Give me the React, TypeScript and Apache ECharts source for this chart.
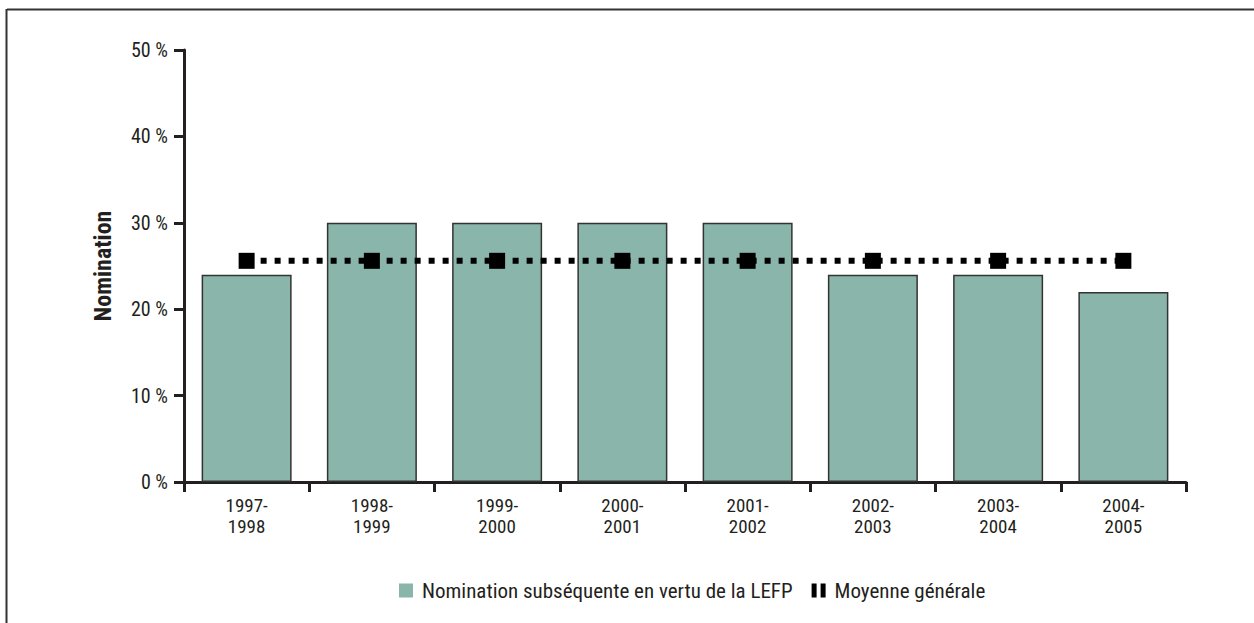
import React, { useEffect, useRef } from "react";
import * as echarts from "echarts";

const categories = ["1997-\n1998", "1998-\n1999", "1999-\n2000", "2000-\n2001", "2001-\n2002", "2002-\n2003", "2003-\n2004", "2004-\n2005"];
const barValues = [24, 30, 30, 30, 30, 24, 24, 22];
const avgValues = [25.6, 25.6, 25.6, 25.6, 25.6, 25.6, 25.6, 25.6];
const barName = "Nomination subséquente en vertu de la LEFP";
const lineName = "Moyenne générale";

const FONT = "'Liberation Sans Narrow', 'Roboto Condensed', 'DejaVu Sans Condensed', Roboto, sans-serif";
const TXT = "#231f20";

export default function App() {
  const ref = useRef<HTMLDivElement>(null);
  useEffect(() => {
    const chart = echarts.init(ref.current!, null, { renderer: "svg" });
    chart.setOption({
      animation: false,
      textStyle: { fontFamily: FONT, color: TXT },
      graphic: [
        { type: "line", shape: { x1: 7, y1: 9.5, x2: 1254, y2: 9.5 }, style: { stroke: "#333", lineWidth: 2 } },
        { type: "line", shape: { x1: 6.5, y1: 9, x2: 6.5, y2: 623 }, style: { stroke: "#333", lineWidth: 2 } },
      ],
      legend: {
        bottom: 17,
        left: 394,
        itemWidth: 14,
        itemHeight: 14,
        itemGap: 19,
        textStyle: { fontFamily: FONT, fontSize: 21, color: TXT, padding: [0, 0, 0, 4] },
        data: [
          { name: barName, icon: "rect", itemStyle: { borderWidth: 0 } },
          { name: lineName, icon: "path://M0,0h5v14h-5z M9,0h5v14h-5z", itemStyle: { color: "#000" } },
        ],
      },
      grid: { left: 184, right: 68, top: 50, bottom: 141 },
      xAxis: {
        type: "category",
        data: categories,
        axisLine: { lineStyle: { color: "#231f20", width: 3 } },
        axisTick: { show: true, length: 10, lineStyle: { color: "#231f20", width: 3 } },
        axisLabel: { fontFamily: FONT, fontSize: 19, color: TXT, lineHeight: 21, margin: 13 },
      },
      yAxis: {
        type: "value",
        min: 0,
        max: 50,
        interval: 10,
        name: "Nomination",
        nameLocation: "middle",
        nameGap: 69,
        nameTextStyle: { fontFamily: FONT, fontSize: 24, fontWeight: "bold", color: TXT },
        axisLine: { show: true, lineStyle: { color: "#231f20", width: 3 } },
        axisTick: { show: true, length: 10, lineStyle: { color: "#231f20", width: 3 } },
        splitLine: { show: false },
        axisLabel: { fontFamily: FONT, fontSize: 20, color: TXT, margin: 16, formatter: "{value} %" },
      },
      series: [
        {
          name: barName,
          type: "bar",
          data: barValues,
          barWidth: 90,
          itemStyle: { color: "#8ab5ab", borderColor: "#333", borderWidth: 1.5 },
        },
        {
          name: lineName,
          type: "line",
          data: avgValues,
          symbol: "rect",
          symbolSize: 16,
          itemStyle: { color: "#000" },
          lineStyle: { color: "#000", width: 6, type: [6, 8] },
          z: 5,
        },
      ],
    });
    return () => chart.dispose();
  }, []);
  return <div ref={ref} style={{ width: 1254, height: 623, position: "absolute", left: 0, top: 0, background: "#fff" }} />;
}
